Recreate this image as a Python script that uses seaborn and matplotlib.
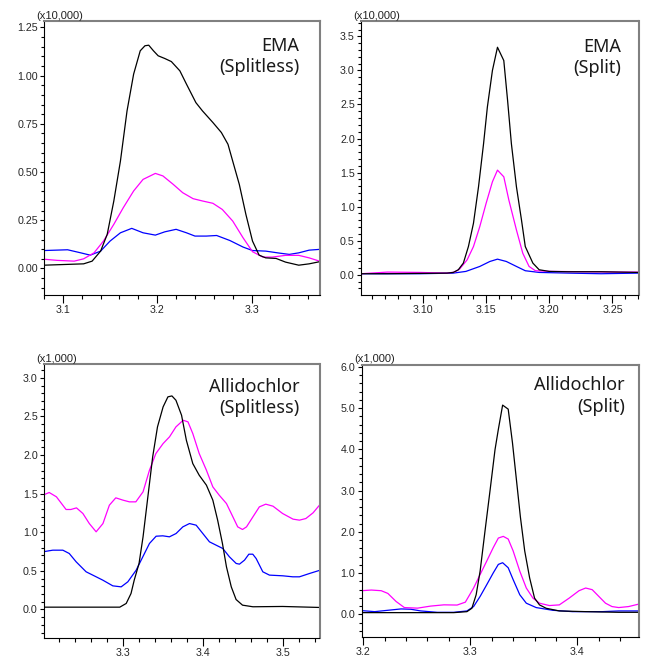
import matplotlib
matplotlib.use("Agg")
import matplotlib.pyplot as plt
import seaborn as sns
from matplotlib.ticker import MultipleLocator, FormatStrFormatter

# === EMA (Splitless) ===
ema_sl_black_x = [3.080, 3.122, 3.131, 3.140, 3.147, 3.154, 3.161, 3.168, 3.175, 3.182, 3.187, 3.191,
                  3.196, 3.201, 3.208, 3.215, 3.224, 3.231, 3.241, 3.248, 3.259, 3.268, 3.275, 3.280,
                  3.287, 3.294, 3.301, 3.308, 3.315, 3.326, 3.336, 3.350, 3.361, 3.372]
ema_sl_black_y = [0.017, 0.024, 0.038, 0.090, 0.177, 0.350, 0.557, 0.817, 1.008, 1.129, 1.155, 1.158,
                  1.129, 1.103, 1.089, 1.073, 1.025, 0.956, 0.860, 0.817, 0.757, 0.705, 0.644, 0.557,
                  0.436, 0.280, 0.142, 0.069, 0.055, 0.052, 0.033, 0.017, 0.024, 0.035]
ema_sl_mag_x = [3.080, 3.094, 3.112, 3.122, 3.133, 3.143, 3.154, 3.164, 3.175, 3.185, 3.198, 3.206,
                3.217, 3.227, 3.238, 3.248, 3.259, 3.269, 3.280, 3.291, 3.301, 3.312, 3.322, 3.336,
                3.350, 3.361, 3.372]
ema_sl_mag_y = [0.048, 0.042, 0.038, 0.050, 0.081, 0.142, 0.229, 0.315, 0.402, 0.462, 0.493, 0.480,
                0.436, 0.393, 0.362, 0.350, 0.338, 0.306, 0.246, 0.159, 0.087, 0.059, 0.059, 0.068,
                0.068, 0.055, 0.038]
ema_sl_blue_x = [3.080, 3.105, 3.119, 3.129, 3.140, 3.150, 3.161, 3.173, 3.185, 3.198, 3.208, 3.220,
                 3.231, 3.240, 3.252, 3.263, 3.277, 3.291, 3.301, 3.315, 3.329, 3.340, 3.350, 3.361, 3.372]
ema_sl_blue_y = [0.093, 0.097, 0.081, 0.069, 0.090, 0.142, 0.185, 0.208, 0.185, 0.173, 0.190, 0.203,
                 0.185, 0.168, 0.168, 0.171, 0.145, 0.111, 0.093, 0.090, 0.080, 0.073, 0.081, 0.095, 0.099]

# === EMA (Split) ===
ema_sp_black_x = [3.051, 3.072, 3.098, 3.119, 3.124, 3.128, 3.132, 3.136, 3.140, 3.144, 3.148, 3.151,
                  3.155, 3.159, 3.164, 3.167, 3.170, 3.174, 3.178, 3.181, 3.187, 3.192, 3.200, 3.215,
                  3.241, 3.271]
ema_sp_black_y = [0.015, 0.015, 0.020, 0.024, 0.034, 0.073, 0.171, 0.414, 0.756, 1.292, 1.926, 2.462,
                  2.999, 3.340, 3.145, 2.560, 1.926, 1.292, 0.804, 0.414, 0.171, 0.073, 0.049, 0.044,
                  0.044, 0.034]
ema_sp_mag_x = [3.051, 3.072, 3.098, 3.119, 3.125, 3.129, 3.135, 3.140, 3.145, 3.150, 3.155, 3.159,
                3.164, 3.168, 3.174, 3.179, 3.184, 3.189, 3.202, 3.229, 3.255, 3.271]
ema_sp_mag_y = [0.015, 0.039, 0.034, 0.024, 0.039, 0.083, 0.219, 0.414, 0.707, 1.048, 1.365, 1.536,
                1.438, 1.097, 0.658, 0.317, 0.122, 0.059, 0.049, 0.044, 0.039, 0.039]
ema_sp_blue_x = [3.051, 3.098, 3.124, 3.134, 3.145, 3.153, 3.159, 3.166, 3.174, 3.181, 3.192, 3.215,
                 3.241, 3.271]
ema_sp_blue_y = [0.015, 0.015, 0.024, 0.049, 0.122, 0.195, 0.229, 0.195, 0.122, 0.059, 0.034, 0.024,
                 0.015, 0.024]

# === Allidochlor (Splitless) ===
all_sl_black_x = [3.200, 3.250, 3.296, 3.304, 3.310, 3.314, 3.320, 3.325, 3.331, 3.337, 3.343, 3.350,
                  3.356, 3.361, 3.366, 3.373, 3.379, 3.387, 3.395, 3.404, 3.412, 3.418, 3.424, 3.429,
                  3.435, 3.441, 3.449, 3.462, 3.499, 3.546]
all_sl_black_y = [0.030, 0.030, 0.030, 0.078, 0.207, 0.380, 0.596, 0.941, 1.459, 1.977, 2.365, 2.624,
                  2.754, 2.766, 2.710, 2.516, 2.192, 1.890, 1.739, 1.610, 1.416, 1.157, 0.854, 0.552,
                  0.293, 0.129, 0.056, 0.035, 0.039, 0.026]
all_sl_mag_x = [3.200, 3.208, 3.217, 3.229, 3.235, 3.242, 3.250, 3.258, 3.2665, 3.275, 3.283, 3.291,
                3.300, 3.308, 3.316, 3.325, 3.333, 3.341, 3.350, 3.358, 3.366, 3.375, 3.381, 3.387,
                3.395, 3.404, 3.412, 3.420, 3.429, 3.437, 3.443, 3.449, 3.454, 3.462, 3.470, 3.478,
                3.487, 3.499, 3.512, 3.520, 3.528, 3.537, 3.546]
all_sl_mag_y = [1.480, 1.515, 1.459, 1.295, 1.295, 1.316, 1.243, 1.113, 1.006, 1.113, 1.351, 1.446,
                1.416, 1.394, 1.394, 1.524, 1.804, 2.020, 2.149, 2.236, 2.365, 2.451, 2.430, 2.279,
                2.020, 1.804, 1.588, 1.480, 1.372, 1.200, 1.070, 1.036, 1.070, 1.200, 1.329, 1.364,
                1.338, 1.243, 1.170, 1.157, 1.178, 1.252, 1.364]
all_sl_blue_x = [3.200, 3.2125, 3.225, 3.233, 3.2416, 3.254, 3.2623, 3.2748, 3.2873, 3.2977, 3.306,
                 3.3164, 3.3247, 3.333, 3.3413, 3.3496, 3.3579, 3.3662, 3.3746, 3.3829, 3.3912, 3.3995,
                 3.4078, 3.4161, 3.4244, 3.4327, 3.4411, 3.4452, 3.4515, 3.4569, 3.4618, 3.466, 3.4743,
                 3.4826, 3.4993, 3.5117, 3.520, 3.5325, 3.5458]
all_sl_blue_y = [0.747, 0.768, 0.768, 0.725, 0.617, 0.488, 0.445, 0.380, 0.306, 0.293, 0.358, 0.509,
                 0.682, 0.855, 0.949, 0.954, 0.941, 0.984, 1.070, 1.113, 1.092, 0.984, 0.876, 0.833,
                 0.790, 0.682, 0.596, 0.587, 0.639, 0.716, 0.716, 0.660, 0.488, 0.445, 0.436, 0.423,
                 0.423, 0.466, 0.509]

# === Allidochlor (Split) ===
all_sp_black_x = [3.1985, 3.2231, 3.2538, 3.2846, 3.2969, 3.3015, 3.3055, 3.3092, 3.3138, 3.3185,
                  3.3231, 3.3262, 3.3302, 3.3354, 3.3394, 3.3431, 3.3468, 3.3508, 3.3554, 3.360,
                  3.3646, 3.3708, 3.3831, 3.4077, 3.4385, 3.4569]
all_sp_black_y = [0.041, 0.041, 0.041, 0.041, 0.065, 0.147, 0.475, 1.048, 2.030, 3.012, 3.994, 4.486,
                  5.075, 4.977, 4.158, 3.258, 2.357, 1.539, 0.884, 0.393, 0.229, 0.147, 0.082, 0.065,
                  0.049, 0.049]
all_sp_mag_x = [3.1985, 3.2077, 3.2169, 3.2231, 3.2308, 3.2385, 3.2508, 3.2631, 3.2754, 3.2877, 3.2954,
                3.3031, 3.3092, 3.3154, 3.3215, 3.3262, 3.3308, 3.3354, 3.340, 3.3462, 3.3523, 3.3585,
                3.3646, 3.3738, 3.3831, 3.3923, 3.4015, 3.4077, 3.4138, 3.420, 3.4262, 3.4323, 3.4385,
                3.4477, 3.4569]
all_sp_mag_y = [0.573, 0.589, 0.573, 0.507, 0.311, 0.164, 0.150, 0.200, 0.230, 0.225, 0.295, 0.638,
                0.966, 1.293, 1.621, 1.850, 1.891, 1.826, 1.539, 1.048, 0.638, 0.393, 0.270, 0.213,
                0.229, 0.393, 0.573, 0.638, 0.598, 0.434, 0.270, 0.188, 0.164, 0.188, 0.246]
all_sp_blue_x = [3.1985, 3.2108, 3.2231, 3.2354, 3.2446, 3.2538, 3.2692, 3.2846, 3.2969, 3.3031, 3.3092,
                 3.3154, 3.3215, 3.3262, 3.3302, 3.3354, 3.340, 3.3462, 3.3523, 3.3615, 3.3769, 3.3954,
                 3.4231, 3.4385, 3.4569]
all_sp_blue_y = [0.090, 0.065, 0.098, 0.131, 0.123, 0.082, 0.049, 0.049, 0.082, 0.188, 0.434, 0.720,
                 1.007, 1.211, 1.252, 1.130, 0.843, 0.475, 0.270, 0.164, 0.098, 0.065, 0.065, 0.082, 0.082]

titles = ["EMA\n(Splitless)", "EMA\n(Split)", "Allidochlor\n(Splitless)", "Allidochlor\n(Split)"]
multipliers = ["(x10,000)", "(x10,000)", "(x1,000)", "(x1,000)"]

sns.set_style("white")
plt.rcParams['font.family'] = ['Liberation Sans', 'DejaVu Sans']

W, H = 647, 661
fig = plt.figure(figsize=(W / 100, H / 100), dpi=100)


def px_axes(left, top, right, bottom):
    return fig.add_axes([left / W, 1 - bottom / H, (right - left) / W, (bottom - top) / H])


panels = [
    dict(box=(44, 20.7, 319.5, 294.5), xlim=(3.08, 3.372), ylim=(-0.135, 1.285),
         xmaj=0.1, xmin=0.02, ymaj=0.25, ymin=0.05, xfmt='%.1f', yfmt='%.2f',
         series=[(ema_sl_blue_x, ema_sl_blue_y), (ema_sl_mag_x, ema_sl_mag_y), (ema_sl_black_x, ema_sl_black_y)],
         title_off=(20, 16)),
    dict(box=(361, 20.7, 638.5, 294.5), xlim=(3.051, 3.2706), ylim=(-0.29, 3.73),
         xmaj=0.05, xmin=0.01, ymaj=0.5, ymin=0.1, xfmt='%.2f', yfmt='%.1f',
         series=[(ema_sp_blue_x, ema_sp_blue_y), (ema_sp_mag_x, ema_sp_mag_y), (ema_sp_black_x, ema_sp_black_y)],
         title_off=(17, 17)),
    dict(box=(44, 363.5, 319.5, 637.5), xlim=(3.2015, 3.545), ylim=(-0.363, 3.186),
         xmaj=0.1, xmin=0.02, ymaj=0.5, ymin=0.1, xfmt='%.1f', yfmt='%.1f',
         series=[(all_sl_blue_x, all_sl_blue_y), (all_sl_mag_x, all_sl_mag_y), (all_sl_black_x, all_sl_black_y)],
         title_off=(20, 14)),
    dict(box=(361.5, 364.5, 638.5, 637), xlim=(3.1985, 3.457), ylim=(-0.55, 6.06),
         xmaj=0.1, xmin=0.02, ymaj=1.0, ymin=0.2, xfmt='%.1f', yfmt='%.1f',
         series=[(all_sp_blue_x, all_sp_blue_y), (all_sp_mag_x, all_sp_mag_y), (all_sp_black_x, all_sp_black_y)],
         title_off=(13.5, 12)),
]
colors = ['#0000ff', '#ff00ff', '#000000']

for p, title, mult in zip(panels, titles, multipliers):
    ax = px_axes(*p['box'])
    for (xs, ys), c in zip(p['series'], colors):
        sns.lineplot(x=xs, y=ys, color=c, linewidth=0.9, ax=ax, estimator=None, sort=False)
    ax.set_xlim(*p['xlim'])
    ax.set_ylim(*p['ylim'])
    ax.xaxis.set_major_locator(MultipleLocator(p['xmaj']))
    ax.xaxis.set_minor_locator(MultipleLocator(p['xmin']))
    ax.yaxis.set_major_locator(MultipleLocator(p['ymaj']))
    ax.yaxis.set_minor_locator(MultipleLocator(p['ymin']))
    ax.xaxis.set_major_formatter(FormatStrFormatter(p['xfmt']))
    ax.yaxis.set_major_formatter(FormatStrFormatter(p['yfmt']))
    ax.tick_params(axis='x', which='major', direction='out', length=5.8, width=0.8, color='black',
                   labelsize=7.7, pad=1.5, bottom=True, top=False)
    ax.tick_params(axis='x', which='minor', direction='out', length=3.2, width=0.8, color='black',
                   bottom=True, top=False)
    ax.tick_params(axis='y', which='major', direction='out', length=3.0, width=0.8, color='black',
                   labelsize=7.7, pad=1.5, left=True, right=False)
    ax.tick_params(axis='y', which='minor', direction='out', length=2.2, width=0.8, color='black',
                   left=True, right=False)
    for side in ['left', 'bottom']:
        ax.spines[side].set_color('black')
        ax.spines[side].set_linewidth(0.8)
    for side in ['top', 'right']:
        ax.spines[side].set_color('#808080')
        ax.spines[side].set_linewidth(1.5)
    ax.set_xlabel('')
    ax.set_ylabel('')
    ax.grid(False)

    box_w = p['box'][2] - p['box'][0]
    ax.text(-7.3 / box_w, 1.0, mult, transform=ax.transAxes, ha='left', va='bottom',
            fontsize=8, color='#222222')
    dx, dy = p['title_off']
    ax.annotate(title, xy=(1, 1), xycoords='axes fraction', xytext=(-dx * 0.72, -dy * 0.72),
                textcoords='offset points', ha='right', va='top', multialignment='right',
                fontsize=13, family=['Noto Sans', 'DejaVu Sans'], color='#1a1a1a', linespacing=1.25)

fig.savefig('out.png', dpi=100)
